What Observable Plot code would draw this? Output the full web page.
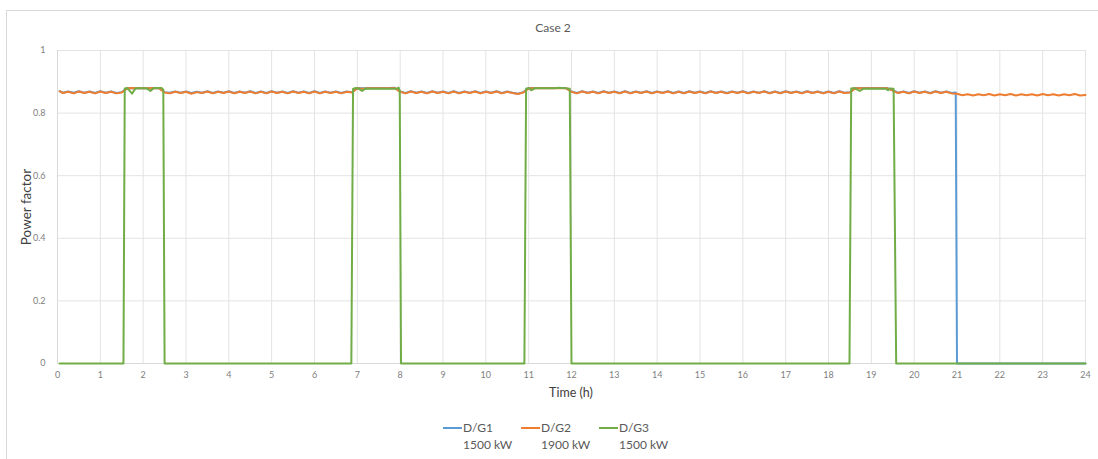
<!DOCTYPE html>
<html>
<head>
<meta charset="utf-8">
<script src="https://cdn.jsdelivr.net/npm/d3@7"></script>
<script src="https://cdn.jsdelivr.net/npm/@observablehq/plot@0.6"></script>
<style>
  html, body { margin: 0; padding: 0; background: #fff; }
  #wrap { position: relative; width: 1098px; height: 459px; overflow: hidden; font-family: Lato, "Liberation Sans", sans-serif; }
  #frame { position: absolute; left: 6px; top: 10px; width: 1100px; height: 460px; border-top: 1px solid #d9d9d9; border-left: 1px solid #d9d9d9; box-sizing: border-box; }
  #chart { position: absolute; left: 0; top: 0; }
  .lbl { position: absolute; color: #595959; white-space: nowrap; }
  #title { left: 0; width: 1106px; top: 20px; text-align: center; font-size: 12px; }
  #ytitle { left: 26px; top: 207px; font-size: 13.5px; line-height: 14px; transform: translate(-50%, -50%) rotate(-90deg); color: #404040; }
  #xtitle { left: 0; width: 1142px; top: 385px; text-align: center; font-size: 12.5px; color: #404040; }
  .leg { position: absolute; top: 419px; font-size: 12px; color: #595959; line-height: 17px; }
  .sw { position: absolute; top: 8px; width: 19px; height: 2px; }
  .legtxt { position: absolute; left: 20px; top: 0; white-space: nowrap; }
</style>
</head>
<body>
<div id="wrap">
  <div id="frame"></div>
  <div id="chart"></div>
  <div class="lbl" id="title"></div>
  <div class="lbl" id="ytitle"></div>
  <div class="lbl" id="xtitle"></div>
  <div id="legend"></div>
</div>
<script>
// ---- Data ----
const chartTitle = "Case 2";
const xTitle = "Time (h)";
const yTitle = "Power factor";
const xTicks = [0,1,2,3,4,5,6,7,8,9,10,11,12,13,14,15,16,17,18,19,20,21,22,23,24];
const yTicks = [0, 0.2, 0.4, 0.6, 0.8, 1];

const seriesNames = ["D/G1", "D/G2", "D/G3"];
const seriesRatings = ["1500 kW", "1900 kW", "1500 kW"];
const seriesColors = ["#5B9BD5", "#ED7D31", "#70AD47"];

// D/G2 sampled every 0.125 h from 0 to 24 h
const g2Time = [
  0.05,0.125,0.25,0.375,0.5,0.625,0.75,0.875,
  1,1.125,1.25,1.375,1.5,1.625,1.75,1.875,
  2,2.125,2.25,2.375,2.5,2.625,2.75,2.875,
  3,3.125,3.25,3.375,3.5,3.625,3.75,3.875,
  4,4.125,4.25,4.375,4.5,4.625,4.75,4.875,
  5,5.125,5.25,5.375,5.5,5.625,5.75,5.875,
  6,6.125,6.25,6.375,6.5,6.625,6.75,6.875,
  7,7.125,7.25,7.375,7.5,7.625,7.75,7.875,
  8,8.125,8.25,8.375,8.5,8.625,8.75,8.875,
  9,9.125,9.25,9.375,9.5,9.625,9.75,9.875,
  10,10.125,10.25,10.375,10.5,10.625,10.75,10.875,
  11,11.125,11.25,11.375,11.5,11.625,11.75,11.875,
  12,12.125,12.25,12.375,12.5,12.625,12.75,12.875,
  13,13.125,13.25,13.375,13.5,13.625,13.75,13.875,
  14,14.125,14.25,14.375,14.5,14.625,14.75,14.875,
  15,15.125,15.25,15.375,15.5,15.625,15.75,15.875,
  16,16.125,16.25,16.375,16.5,16.625,16.75,16.875,
  17,17.125,17.25,17.375,17.5,17.625,17.75,17.875,
  18,18.125,18.25,18.375,18.5,18.625,18.75,18.875,
  19,19.125,19.25,19.375,19.5,19.625,19.75,19.875,
  20,20.125,20.25,20.375,20.5,20.625,20.75,20.875,
  21,21.125,21.25,21.375,21.5,21.625,21.75,21.875,
  22,22.125,22.25,22.375,22.5,22.625,22.75,22.875,
  23,23.125,23.25,23.375,23.5,23.625,23.75,23.875,
  24
];
const g2Pf = [
  0.870,0.864,0.868,0.863,0.869,0.864,0.868,0.863,
  0.869,0.864,0.868,0.863,0.866,0.879,0.880,0.879,
  0.879,0.879,0.880,0.879,0.866,0.863,0.868,0.864,
  0.868,0.862,0.867,0.864,0.869,0.863,0.868,0.864,
  0.869,0.863,0.868,0.864,0.869,0.863,0.868,0.863,
  0.869,0.864,0.868,0.863,0.869,0.864,0.868,0.863,
  0.869,0.863,0.868,0.864,0.868,0.863,0.868,0.866,
  0.879,0.878,0.879,0.879,0.879,0.879,0.879,0.880,
  0.868,0.863,0.869,0.864,0.868,0.863,0.869,0.864,
  0.868,0.863,0.869,0.863,0.868,0.864,0.869,0.863,
  0.868,0.864,0.869,0.863,0.868,0.864,0.861,0.866,
  0.879,0.879,0.879,0.879,0.879,0.879,0.879,0.879,
  0.868,0.863,0.869,0.864,0.868,0.863,0.869,0.864,
  0.868,0.863,0.869,0.863,0.868,0.864,0.869,0.863,
  0.868,0.864,0.869,0.863,0.868,0.863,0.869,0.864,
  0.868,0.863,0.869,0.864,0.868,0.863,0.868,0.864,
  0.869,0.863,0.868,0.864,0.869,0.863,0.868,0.863,
  0.869,0.864,0.868,0.863,0.869,0.864,0.868,0.863,
  0.868,0.863,0.869,0.864,0.866,0.879,0.879,0.879,
  0.879,0.879,0.879,0.879,0.872,0.864,0.868,0.863,
  0.869,0.864,0.868,0.863,0.869,0.864,0.868,0.863,
  0.862,0.857,0.860,0.856,0.860,0.857,0.861,0.856,
  0.860,0.857,0.861,0.856,0.860,0.857,0.860,0.856,
  0.861,0.857,0.860,0.856,0.860,0.857,0.861,0.856,
  0.858
];

// D/G1: same sampling until 20.875 h, then trips at 21 h
const g1Time = [
  0.05,0.125,0.25,0.375,0.5,0.625,0.75,0.875,
  1,1.125,1.25,1.375,1.5,1.625,1.75,1.875,
  2,2.125,2.25,2.375,2.5,2.625,2.75,2.875,
  3,3.125,3.25,3.375,3.5,3.625,3.75,3.875,
  4,4.125,4.25,4.375,4.5,4.625,4.75,4.875,
  5,5.125,5.25,5.375,5.5,5.625,5.75,5.875,
  6,6.125,6.25,6.375,6.5,6.625,6.75,6.875,
  7,7.125,7.25,7.375,7.5,7.625,7.75,7.875,
  8,8.125,8.25,8.375,8.5,8.625,8.75,8.875,
  9,9.125,9.25,9.375,9.5,9.625,9.75,9.875,
  10,10.125,10.25,10.375,10.5,10.625,10.75,10.875,
  11,11.125,11.25,11.375,11.5,11.625,11.75,11.875,
  12,12.125,12.25,12.375,12.5,12.625,12.75,12.875,
  13,13.125,13.25,13.375,13.5,13.625,13.75,13.875,
  14,14.125,14.25,14.375,14.5,14.625,14.75,14.875,
  15,15.125,15.25,15.375,15.5,15.625,15.75,15.875,
  16,16.125,16.25,16.375,16.5,16.625,16.75,16.875,
  17,17.125,17.25,17.375,17.5,17.625,17.75,17.875,
  18,18.125,18.25,18.375,18.5,18.625,18.75,18.875,
  19,19.125,19.25,19.375,19.5,19.625,19.75,19.875,
  20,20.125,20.25,20.375,20.5,20.625,20.75,20.875,
  20.97,21.0,24
];
const g1Pf = [
  0.870,0.865,0.869,0.865,0.870,0.865,0.869,0.864,
  0.870,0.865,0.869,0.864,0.867,0.879,0.880,0.879,
  0.879,0.879,0.880,0.879,0.867,0.865,0.869,0.865,
  0.869,0.864,0.868,0.865,0.870,0.864,0.869,0.865,
  0.870,0.864,0.869,0.865,0.870,0.864,0.869,0.864,
  0.870,0.865,0.869,0.864,0.870,0.865,0.869,0.864,
  0.870,0.864,0.869,0.865,0.869,0.864,0.869,0.867,
  0.880,0.879,0.880,0.880,0.880,0.880,0.880,0.881,
  0.869,0.864,0.870,0.865,0.869,0.864,0.870,0.865,
  0.869,0.864,0.870,0.864,0.869,0.865,0.870,0.864,
  0.869,0.865,0.870,0.864,0.869,0.865,0.862,0.867,
  0.880,0.880,0.880,0.880,0.880,0.880,0.880,0.880,
  0.869,0.864,0.870,0.865,0.869,0.864,0.870,0.865,
  0.869,0.864,0.870,0.864,0.869,0.865,0.870,0.864,
  0.869,0.865,0.870,0.864,0.869,0.864,0.870,0.865,
  0.869,0.864,0.870,0.865,0.869,0.864,0.869,0.865,
  0.870,0.864,0.869,0.865,0.870,0.864,0.869,0.864,
  0.870,0.865,0.869,0.864,0.870,0.865,0.869,0.864,
  0.869,0.864,0.870,0.865,0.867,0.880,0.880,0.880,
  0.880,0.880,0.880,0.880,0.873,0.865,0.869,0.864,
  0.870,0.865,0.869,0.864,0.870,0.865,0.869,0.864,
  0.866,0,0
];

// D/G3: cycles on and off
const g3Time = [
  0.05,1.54,1.57,1.62,1.68,1.74,1.82,2.08,2.17,2.25,2.43,2.47,2.5,
  6.86,6.9,6.96,7.03,7.11,7.19,7.92,7.96,7.99,8.02,
  10.9,10.94,11.0,11.06,11.14,11.6,11.7,11.9,11.96,12.0,
  18.49,18.53,18.6,18.73,18.82,19.33,19.39,19.43,19.52,19.58,
  24
];
const g3Pf = [
  0,0,0.879,0.880,0.872,0.862,0.879,0.879,0.871,0.880,0.880,0.875,0,
  0,0.877,0.880,0.878,0.871,0.878,0.878,0.882,0.872,0,
  0,0.878,0.880,0.873,0.879,0.879,0.881,0.879,0.878,0,
  0,0.879,0.880,0.871,0.878,0.878,0.873,0.879,0.878,0,
  0
];

// ---- Build tables ----
const toRows = (ts, vs) => ts.map((t, i) => ({t, v: vs[i]}));
const g1 = toRows(g1Time, g1Pf);
const g2 = toRows(g2Time, g2Pf);
const g3 = toRows(g3Time, g3Pf);

const grid = "#e3e3e3";
const axisLine = "#d9d9d9";

const plot = Plot.plot({
  width: 1098,
  height: 459,
  marginLeft: 57,
  marginRight: 13,
  marginTop: 50,
  marginBottom: 96,
  style: {fontFamily: "Lato, 'Liberation Sans', sans-serif", fontSize: "9px", color: "#808080", background: "transparent", overflow: "visible"},
  x: {domain: [0, 24]},
  y: {domain: [0, 1]},
  marks: [
    Plot.gridX(xTicks, {stroke: grid, strokeOpacity: 1}),
    Plot.gridY(yTicks, {stroke: grid, strokeOpacity: 1}),
    Plot.ruleY([0], {stroke: axisLine}),
    Plot.ruleX([0], {stroke: axisLine}),
    Plot.axisX(xTicks, {tickSize: 0, tickPadding: 8, label: null, tickFormat: d => String(d)}),
    Plot.axisY(yTicks, {tickSize: 0, tickPadding: 12, label: null, tickFormat: d => String(d)}),
    Plot.line(g1, {x: "t", y: "v", stroke: seriesColors[0], strokeWidth: 2}),
    Plot.line(g2, {x: "t", y: "v", stroke: seriesColors[1], strokeWidth: 2}),
    Plot.line(g3, {x: "t", y: "v", stroke: seriesColors[2], strokeWidth: 2})
  ]
});
document.getElementById("chart").appendChild(plot);

document.getElementById("title").textContent = chartTitle;
document.getElementById("ytitle").textContent = yTitle;
document.getElementById("xtitle").textContent = xTitle;

const legendX = [443, 521, 599];
const legend = document.getElementById("legend");
seriesNames.forEach((name, i) => {
  const d = document.createElement("div");
  d.className = "leg";
  d.style.left = legendX[i] + "px";
  const sw = document.createElement("div");
  sw.className = "sw";
  sw.style.background = seriesColors[i];
  const tx = document.createElement("div");
  tx.className = "legtxt";
  tx.innerHTML = name + "<br>" + seriesRatings[i];
  d.appendChild(sw);
  d.appendChild(tx);
  legend.appendChild(d);
});
</script>
</body>
</html>
